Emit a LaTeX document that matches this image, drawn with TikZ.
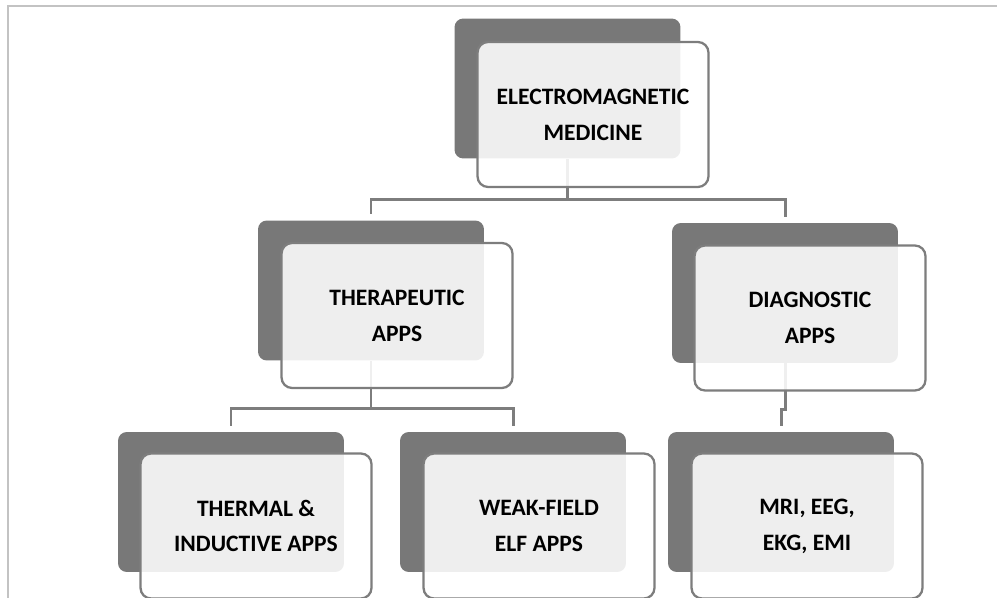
\documentclass[tikz,border=0pt]{standalone}
\usepackage{fontspec}
\setmainfont{Carlito}
\usepackage{tikz}
\usetikzlibrary{positioning}
\definecolor{sombra}{RGB}{120,120,120}
\definecolor{borde}{RGB}{125,125,125}
\definecolor{marco}{RGB}{195,195,195}

\begin{document}
\begin{tikzpicture}[x=0.02cm, y=-0.02cm,
    back/.style={fill=sombra, rounded corners=5pt, minimum width=4.52cm, minimum height=2.8cm},
    caja/.style={draw=borde, line width=1.3pt, fill=white, fill opacity=0.88, text opacity=1,
      rounded corners=6pt, minimum width=4.62cm, minimum height=2.9cm, align=center,
      font=\fontsize{13.4}{20.4}\selectfont\bfseries},
    linea/.style={draw=borde, line width=1.7pt}]
            \useasboundingbox (0,0) rectangle (997,598);
            \draw[marco, line width=0.7pt] (8,598) -- (8,6) -- (997,6);

            % Sombras
            \node[back] (emb) at (567.5,88.5) {};
            \node[back] (tb) at (371,290.5) {};
            \node[back] (db) at (785,293) {};
            \node[back] (thb) at (231,502) {};
            \node[back] (wb) at (513,502) {};
            \node[back] (mb) at (781,502) {};

            % Conectores
            \draw[linea] (emb.south) -- ++(0,41) -| ([yshift=0.12cm]tb.north);
            \draw[linea] (emb.south) -- ++(0,41) -| ([yshift=0.12cm]db.north);
            \draw[linea] (tb.south) -- ++(0,48) -| ([yshift=0.12cm]thb.north);
            \draw[linea] (tb.south) -- ++(0,48) -| ([yshift=0.12cm]wb.north);
            \draw[linea] (db.south) -- ++(0,46) -| ([yshift=0.12cm]mb.north);

            % Cajas
            \node[caja] (em) at (593,114.5) {ELECTROMAGNETIC\\MEDICINE};
            \node[caja] (ther) at (397,315.5) {THERAPEUTIC\\APPS};
            \node[caja] (diag) at (810,318) {DIAGNOSTIC\\APPS};
            \node[caja] (therm) at (256,526) {THERMAL \&\\INDUCTIVE APPS};
            \node[caja] (weak) at (539,526) {WEAK-FIELD\\ELF APPS};
            \node[caja] (mri) at (807,526) {MRI, EEG,\\EKG, EMI};
          \end{tikzpicture}
\end{document}
